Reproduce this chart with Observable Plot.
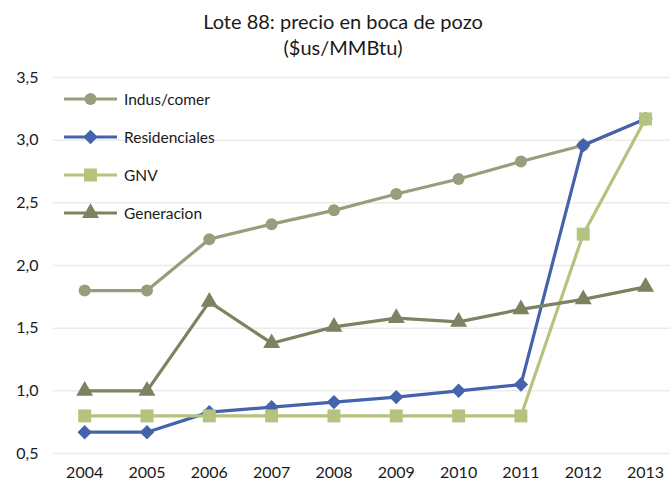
<!DOCTYPE html>
<html>
<head>
<meta charset="utf-8">
<script src="https://cdn.jsdelivr.net/npm/d3@7"></script>
<script src="https://cdn.jsdelivr.net/npm/@observablehq/plot@0.6"></script>
<style>
  html, body { margin: 0; padding: 0; background: #fff; }
  #wrap { position: relative; width: 670px; height: 484px; font-family: Lato, "Open Sans", sans-serif; color: #1a1a1a; }
  #title { height: 60px; text-align: center; font-size: 20px; line-height: 26px; padding-top: 8px; box-sizing: border-box; padding-left: 16px; }
  #legend { position: absolute; left: 64px; top: 80px; font-size: 15.5px; }
  .row { display: flex; align-items: center; height: 38px; }
  .row svg { margin-right: 7px; }
</style>
</head>
<body>
<div id="wrap">
  <div id="title">Lote 88: precio en boca de pozo<br>($us/MMBtu)</div>
  <div id="chart"></div>
  <div id="legend"></div>
</div>
<script>
const years = [2004, 2005, 2006, 2007, 2008, 2009, 2010, 2011, 2012, 2013];
const seriesNames = ["Indus/comer", "Residenciales", "GNV", "Generacion"];
const indusComer = [1.80, 1.80, 2.21, 2.33, 2.44, 2.57, 2.69, 2.83, 2.96, 3.17];
const residenciales = [0.67, 0.67, 0.83, 0.87, 0.91, 0.95, 1.00, 1.05, 2.96, 3.17];
const gnv = [0.80, 0.80, 0.80, 0.80, 0.80, 0.80, 0.80, 0.80, 2.25, 3.17];
const generacion = [1.00, 1.00, 1.71, 1.38, 1.51, 1.58, 1.55, 1.65, 1.73, 1.83];
const yTicks = [0.5, 1.0, 1.5, 2.0, 2.5, 3.0, 3.5];

const colors = ["#9a9d7c", "#4563ac", "#b4c47f", "#7b8360"];
const symbols = ["circle", "diamond2", "square", "triangle"];
const radii = [6, 6.5, 7.3, 6.3];
const valuesList = [indusComer, residenciales, gnv, generacion];

const data = [];
seriesNames.forEach((s, i) => years.forEach((y, j) => data.push({series: s, year: y, value: valuesList[i][j]})));

const marks = [
  Plot.gridY(yTicks, {stroke: "#ebebeb", strokeOpacity: 1, strokeWidth: 1.5})
];
seriesNames.forEach((s, i) => {
  const d = data.filter(r => r.series === s);
  marks.push(Plot.line(d, {x: "year", y: "value", stroke: colors[i], strokeWidth: 3.2}));
  marks.push(Plot.dot(d, {x: "year", y: "value", fill: colors[i], stroke: "none", symbol: () => symbols[i], r: radii[i]}));
});
marks.push(Plot.axisY(yTicks, {tickSize: 0, tickPadding: 15, fontSize: 16, label: null, tickFormat: d => d.toFixed(1).replace(".", ","), fill: "#1a1a1a"}));
marks.push(Plot.axisX(years, {tickSize: 0, tickPadding: 13, fontSize: 16, label: null, tickFormat: d => String(d), fill: "#1a1a1a"}));

const chart = Plot.plot({
  width: 670,
  height: 424,
  marginLeft: 53,
  marginRight: 0,
  marginTop: 17,
  marginBottom: 31,
  style: {fontFamily: "Lato, 'Open Sans', sans-serif", background: "#fff", overflow: "visible"},
  x: {domain: [2003.5, 2013.4], label: null},
  y: {domain: [0.5, 3.5], label: null},
  symbol: {type: "identity"},
  marks
});
document.getElementById("chart").appendChild(chart);

const symbolTypes = {circle: d3.symbolCircle, diamond2: d3.symbolDiamond2, square: d3.symbolSquare, triangle: d3.symbolTriangle};
const legend = document.getElementById("legend");
seriesNames.forEach((s, i) => {
  const row = document.createElement("div");
  row.className = "row";
  const svg = d3.create("svg").attr("width", 53).attr("height", 20);
  svg.append("line").attr("x1", 0).attr("x2", 53).attr("y1", 10).attr("y2", 10).attr("stroke", colors[i]).attr("stroke-width", 3.2);
  svg.append("path").attr("transform", "translate(26.5,10)")
    .attr("d", d3.symbol(symbolTypes[symbols[i]], Math.PI * radii[i] * radii[i])())
    .attr("fill", colors[i]);
  row.appendChild(svg.node());
  const t = document.createElement("span");
  t.textContent = s;
  row.appendChild(t);
  legend.appendChild(row);
});
</script>
</body>
</html>
